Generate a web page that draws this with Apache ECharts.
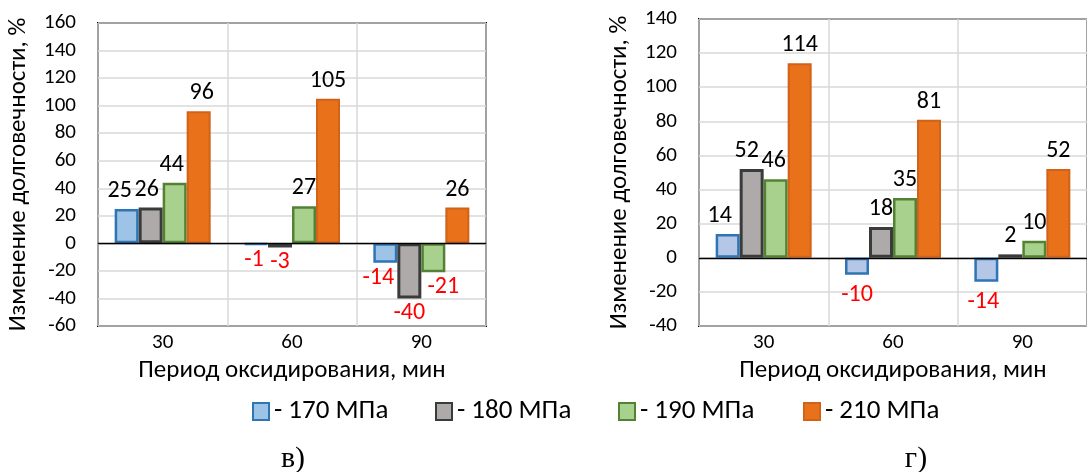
<!DOCTYPE html>
<html>
<head>
<meta charset="utf-8">
<script src="https://cdn.jsdelivr.net/npm/echarts@6/dist/echarts.min.js"></script>
<style>
  html, body { margin: 0; padding: 0; background: #fff; }
  #chart { width: 1087px; height: 472px; }
</style>
</head>
<body>
<div id="chart"></div>
<script>
// Oxidation period categories (minutes)
const categories = ['30', '60', '90'];
// Stress levels
const seriesNames = ['170 МПа', '180 МПа', '190 МПа', '210 МПа'];

// Panel "в": change in durability, %
const v170 = [25, -1, -14];
const v180 = [26, -3, -40];
const v190 = [44, 27, -21];
const v210 = [96, 105, 26];

// Panel "г": change in durability, %
const g170 = [14, -10, -14];
const g180 = [52, 18, 2];
const g190 = [46, 35, 10];
const g210 = [114, 81, 52];

// Y axis tick values
const yTicksV = [-60, -40, -20, 0, 20, 40, 60, 80, 100, 120, 140, 160];
const yTicksG = [-40, -20, 0, 20, 40, 60, 80, 100, 120, 140];

const xTitle = 'Период оксидирования, мин';
const yTitle = 'Изменение долговечности, %';
const panelLetters = ['в)', 'г)'];

const FONT = 'Carlito, Calibri, "Open Sans", sans-serif';

const styles = [
  { fill: ['#9dc3e6', '#b4c7e7'], border: '#2e75b6', bw: 2.5 },
  { fill: ['#aeaaaa', '#aeaaaa'], border: '#3b3b3b', bw: 3 },
  { fill: ['#a9d18e', '#a9d18e'], border: '#548235', bw: 2.5 },
  { fill: ['#e8711a', '#e8711a'], border: '#d0621a', bw: 2 }
];

// Horizontal nudges of crowded value labels: [panel][series][category]
const labelNudge = [
  [[-7, -2, -7], [-4, 0, 0], [-3, 0, 10], [3, 0, 0]],
  [[-8, 0, -3], [-5, 0, 0], [-2, 0, 0], [0, 0, 0]]
];

function makeSeries(panel, values, idx, negDist) {
  const st = styles[idx];
  return {
    type: 'bar',
    name: seriesNames[idx],
    xAxisIndex: panel,
    yAxisIndex: panel,
    barWidth: 24,
    barGap: '0%',
    itemStyle: { color: st.fill[panel], borderColor: st.border, borderWidth: st.bw },
    data: values.map((v, c) => ({
      value: v,
      label: v >= 0
        ? { position: 'top', color: '#000', distance: 6, offset: [labelNudge[panel][idx][c], 0] }
        : { position: 'bottom', color: '#ff0000', distance: negDist, offset: [labelNudge[panel][idx][c], 0] }
    })),
    label: { show: true, fontFamily: FONT, fontSize: 24 },
    markLine: idx === 0 ? {
      silent: true, symbol: 'none', label: { show: false },
      lineStyle: { color: '#000', width: 1.3, type: 'solid' },
      data: [{ yAxis: 0 }]
    } : undefined
  };
}

function makeXAxis(grid) {
  return {
    type: 'category', gridIndex: grid, data: categories,
    axisLine: { show: false }, axisTick: { show: false },
    axisLabel: { color: '#000', fontFamily: FONT, fontSize: 21, margin: 6 },
    splitLine: { show: true, lineStyle: { color: '#d9d9d9', width: 1.5 } },
    name: xTitle, nameLocation: 'middle', nameGap: 32,
    nameTextStyle: { color: '#000', fontFamily: FONT, fontSize: 25 }
  };
}

function makeYAxis(grid, ticks) {
  return {
    type: 'value', gridIndex: grid,
    min: ticks[0], max: ticks[ticks.length - 1], interval: ticks[1] - ticks[0],
    axisLine: { show: false }, axisTick: { show: false },
    axisLabel: { color: '#000', fontFamily: FONT, fontSize: 21, margin: 22 },
    splitLine: { show: true, lineStyle: { color: '#d9d9d9', width: 1.5 } },
    name: yTitle, nameLocation: 'middle', nameGap: 67,
    nameTextStyle: { color: '#000', fontFamily: FONT, fontSize: 25 }
  };
}

function makeLegend(i, left) {
  return {
    data: [seriesNames[i]], left: left, top: 398, padding: 0,
    icon: 'rect', itemWidth: 16, itemHeight: 17,
    formatter: '- {name}',
    textStyle: { color: '#000', fontFamily: FONT, fontSize: 27 },
    selectedMode: false
  };
}

const chart = echarts.init(document.getElementById('chart'), null, { renderer: 'canvas' });
chart.setOption({
  animation: false,
  backgroundColor: '#fff',
  grid: [
    { left: 98, top: 23, width: 388, height: 303, show: true, borderColor: '#000', borderWidth: 2, backgroundColor: 'transparent' },
    { left: 699, top: 19, width: 393, height: 307, show: true, borderColor: '#000', borderWidth: 2, backgroundColor: 'transparent' }
  ],
  xAxis: [makeXAxis(0), makeXAxis(1)],
  yAxis: [makeYAxis(0, yTicksV), makeYAxis(1, yTicksG)],
  legend: [makeLegend(0, 252), makeLegend(1, 435), makeLegend(2, 618), makeLegend(3, 803)],
  series: [
    makeSeries(0, v170, 0, 3), makeSeries(0, v180, 1, 3), makeSeries(0, v190, 2, 3), makeSeries(0, v210, 3, 3),
    makeSeries(1, g170, 0, 8), makeSeries(1, g180, 1, 8), makeSeries(1, g190, 2, 8), makeSeries(1, g210, 3, 8)
  ],
  graphic: [
    { type: 'text', x: 293, y: 459, style: { text: panelLetters[0], font: '30px "Liberation Serif", serif', fill: '#000', align: 'center', verticalAlign: 'middle' } },
    { type: 'text', x: 916, y: 459, style: { text: panelLetters[1], font: '30px "Liberation Serif", serif', fill: '#000', align: 'center', verticalAlign: 'middle' } }
  ]
});
</script>
</body>
</html>
